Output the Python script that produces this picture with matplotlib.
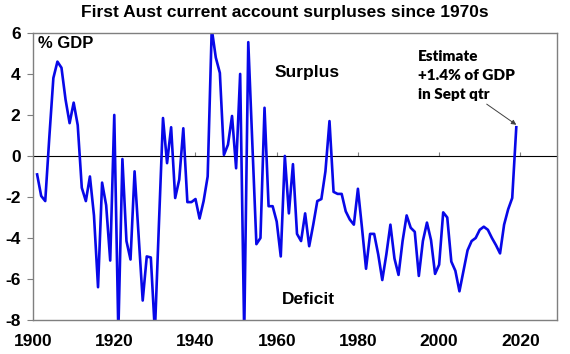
import numpy as np
import matplotlib.pyplot as plt

plt.rcParams['font.family'] = ['Liberation Sans', 'DejaVu Sans']

# current account balance, % of GDP (1901 .. 2019, last = Sept qtr estimate)
years = np.arange(1901, 2020)
balance = [
    -0.9, -1.95, -2.2, 0.9, 3.8, 4.6, 4.3, 2.75, 1.6, 2.6,          # 1901-1910
    1.5, -1.55, -2.2, -1.0, -2.9, -6.4, -1.3, -2.4, -5.1, 2.0,       # 1911-1920
    -8.6, -0.15, -4.15, -5.05, -0.75, -3.9, -7.05, -4.9, -4.95, -8.6,  # 1921-1930
    -3.3, 1.85, -0.35, 1.4, -2.05, -1.15, 1.35, -2.25, -2.25, -2.1,  # 1931-1940
    -3.05, -2.2, -1.0, 6.2, 4.8, 4.05, 0.05, 0.55, 1.95, -0.6,       # 1941-1950
    4.0, -8.7, 5.55, 0.6, -4.3, -4.0, 2.35, -2.45, -2.45, -3.2,      # 1951-1960
    -4.9, 0.0, -2.8, -0.4, -3.8, -4.15, -2.8, -4.4, -3.35, -2.2,     # 1961-1970
    -2.1, -0.75, 1.7, -1.75, -1.85, -1.85, -2.7, -3.1, -3.35, -1.6,  # 1971-1980
    -3.5, -5.5, -3.8, -3.8, -4.8, -6.05, -4.8, -3.35, -5.0, -5.8,    # 1981-1990
    -4.15, -2.9, -3.5, -3.7, -5.85, -4.15, -3.25, -4.1, -5.75, -5.3,  # 1991-2000
    -2.75, -3.0, -5.15, -5.6, -6.6, -5.6, -4.6, -4.15, -4.0, -3.6,   # 2001-2010
    -3.45, -3.6, -4.0, -4.35, -4.75, -3.35, -2.6, -2.05, 1.4,        # 2011-2019
]
xticks = [1900, 1920, 1940, 1960, 1980, 2000, 2020]
yticks = [6, 4, 2, 0, -2, -4, -6, -8]

grey = '#7f7f7f'
ymin, ymax = -8, 6

fig = plt.figure(figsize=(5.7, 3.54), dpi=100)
ax = fig.add_axes([0.058, 0.096, 0.919, 0.811])

ax.plot(years, balance, color='#0808e8', lw=1.9)

ax.set_xlim(1900, 2029)
ax.set_ylim(ymin, ymax)
ax.set_xticks(xticks, labels=[str(v) for v in xticks], fontweight='bold', fontsize=12.5)
ax.set_yticks(yticks, labels=[str(v) for v in yticks], fontweight='bold', fontsize=12.5)
ax.tick_params(axis='x', length=0, pad=10)
ax.tick_params(axis='y', length=4, color=grey, pad=5)
for s in ax.spines.values():
    s.set_color(grey)
    s.set_linewidth(1.0)

# zero line with the small year ticks on it
zero = ax.secondary_xaxis((0 - ymin) / (ymax - ymin))
zero.set_xticks(xticks[1:])
zero.set_xticklabels([])
zero.spines['bottom'].set_color(grey)
zero.spines['bottom'].set_linewidth(0.9)
zero.tick_params(axis='x', length=3, color=grey, width=0.8, direction='out')

ax.text(0.01, 0.988, '% GDP', transform=ax.transAxes, ha='left', va='top',
        fontsize=12, fontweight='bold')
ax.text(0.524, 0.861, 'Surplus', transform=ax.transAxes, ha='center', va='center',
        fontsize=12.5, fontweight='bold')
ax.text(0.525, 0.07, 'Deficit', transform=ax.transAxes, ha='center', va='center',
        fontsize=12.5, fontweight='bold')
ax.text(0.735, 0.94, 'Estimate\n+1.4% of GDP\nin Sept qtr', transform=ax.transAxes,
        ha='left', va='top', fontsize=11, fontweight='heavy', linespacing=1.55,
        family=['Lato', 'DejaVu Sans'])
ax.annotate('', xy=(years[-1], balance[-1] + 0.12), xycoords='data',
            xytext=(0.866, 0.752), textcoords='axes fraction',
            arrowprops=dict(arrowstyle='-|>', color='#404040', lw=0.7,
                            mutation_scale=7, shrinkA=0, shrinkB=0))

fig.text(0.5, 0.966, 'First Aust current account surpluses since 1970s',
         ha='center', va='center', fontsize=12.5, fontweight='bold')

fig.savefig('out.png', dpi=100)
